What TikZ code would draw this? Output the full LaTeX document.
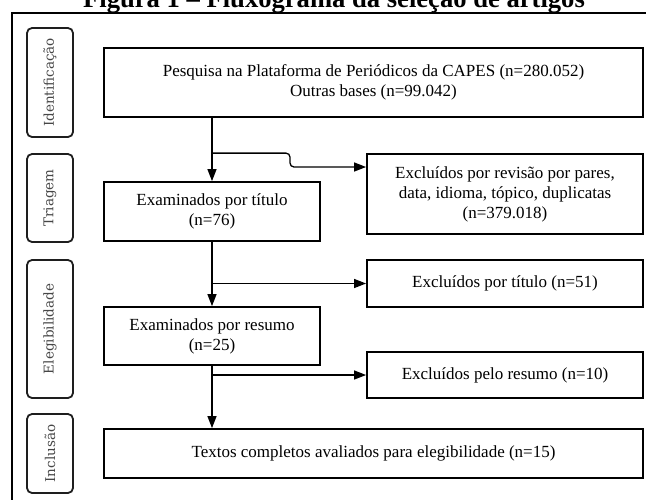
\documentclass[tikz,border=0pt]{standalone}
\usepackage{fontspec}
\setmainfont{Liberation Serif}
\newfontfamily\phasefont{DejaVu Serif}
\usetikzlibrary{arrows.meta, positioning, calc}
\definecolor{fluxo-line}{RGB}{0,0,0}
\definecolor{fluxo-phase}{RGB}{30,30,30}
\definecolor{fluxo-label}{RGB}{70,70,70}

\begin{document}
\begin{tikzpicture}[
  x=1pt, y=-1pt,
  box/.style={draw=fluxo-line, line width=1.8pt, inner sep=0pt, align=center, font=\fontsize{17}{20}\selectfont},
  phase/.style={draw=fluxo-phase, line width=1.8pt, rounded corners=5pt, rotate=90, minimum height=46pt, inner sep=0pt, font=\phasefont\fontsize{13.5}{16}\selectfont, text=fluxo-label},
  flow/.style={-{Triangle[length=12pt, width=9pt]}, line width=1.3pt, draw=fluxo-line},
]
  \useasboundingbox (0,0) rectangle (646,499);

  % Title and frame
  \node[font=\bfseries\fontsize{26.6}{30}\selectfont, anchor=base, inner sep=0pt] (figtitle) at (334,7) {Figura 1 – Fluxograma da seleção de artigos};
  \draw[line width=1.8pt, fluxo-line] (12,13) rectangle (660,512);

  % Phases
  \node[phase, minimum width=109pt] (identificacao) at (50,82.5) {Identificação};
  \node[phase, minimum width=88pt] (triagem) at (50,198) {Triagem};
  \node[phase, minimum width=138pt] (elegibilidade) at (50,329) {Elegibilidade};
  \node[phase, minimum width=79pt] (inclusao) at (50,453.5) {Inclusão};

  % Main column
  \node[box, minimum width=539pt, minimum height=69pt] (pesquisa) at (373.5,82.5) {Pesquisa na Plataforma de Periódicos da CAPES (n=280.052)\\Outras bases (n=99.042)};
  \node[box, minimum width=216pt, minimum height=59pt] (titulo) at (212,211.5) {Examinados por título\\(n=76)};
  \node[box, minimum width=216pt, minimum height=58pt] (resumo) at (212,336) {Examinados por resumo\\(n=25)};
  \node[box, minimum width=539pt, minimum height=49pt] (textos) at (373.5,453.5) {Textos completos avaliados para elegibilidade (n=15)};

  % Exclusions
  \node[box, minimum width=276pt, minimum height=80pt] (excl-triagem) at (505,194) {Excluídos por revisão por pares,\\data, idioma, tópico, duplicatas\\(n=379.018)};
  \node[box, minimum width=276pt, minimum height=47pt] (excl-titulo) at (505,283.5) {Excluídos por título (n=51)};
  \node[box, minimum width=276pt, minimum height=46pt] (excl-resumo) at (505,375) {Excluídos pelo resumo (n=10)};

  % Arrows
  \coordinate (split1) at (titulo.north |- excl-triagem.north);
  \coordinate (split2) at (titulo.south |- excl-titulo.west);
  \coordinate (split3) at (resumo.south |- excl-resumo.west);
  \draw[flow] (titulo.north |- pesquisa.south) -- (titulo.north);
  \draw[flow, rounded corners=4pt] (split1) -- ++(78,0) |- ([yshift=27pt]excl-triagem.west);
  \draw[flow] (titulo.south) -- (resumo.north);
  \draw[flow] (split2) -- (excl-titulo.west);
  \draw[flow] (resumo.south) -- (resumo.south |- textos.north);
  \draw[flow] (split3) -- (excl-resumo.west);
\end{tikzpicture}
\end{document}
